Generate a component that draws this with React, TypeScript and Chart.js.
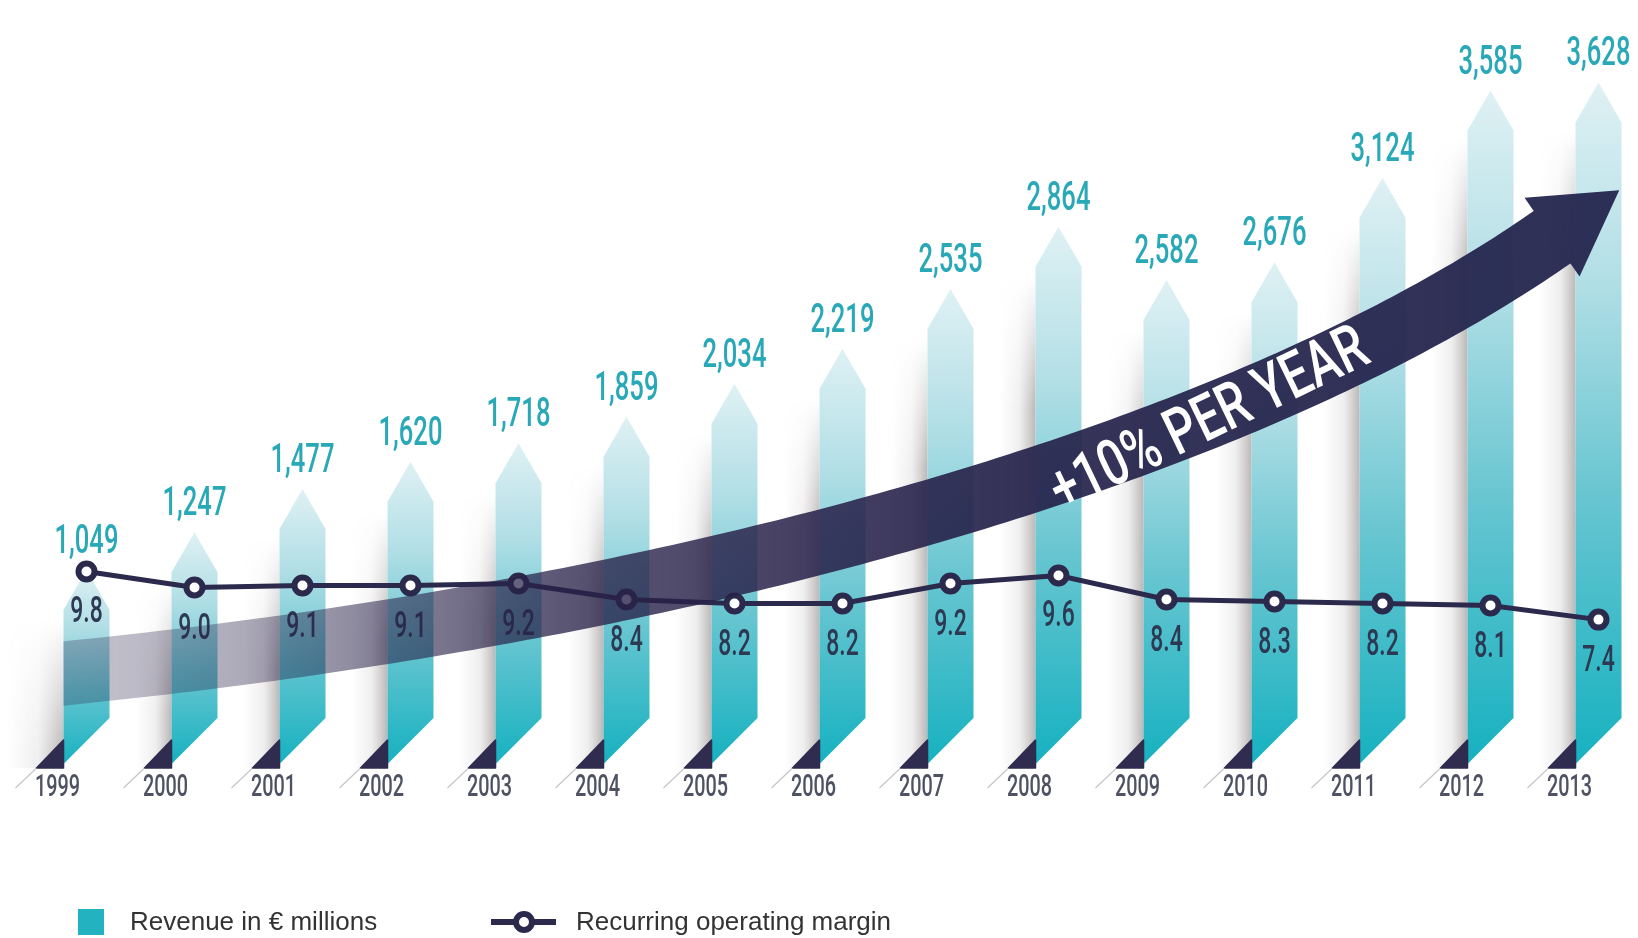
import React, { useEffect, useRef } from 'react';
import { Chart, registerables } from 'chart.js';

Chart.register(...registerables);

// ---------- data ----------
const years = ['1999', '2000', '2001', '2002', '2003', '2004', '2005', '2006', '2007', '2008', '2009', '2010', '2011', '2012', '2013'];
const revenue = [1049, 1247, 1477, 1620, 1718, 1859, 2034, 2219, 2535, 2864, 2582, 2676, 3124, 3585, 3628];
const margin = [9.8, 9.0, 9.1, 9.1, 9.2, 8.4, 8.2, 8.2, 9.2, 9.6, 8.4, 8.3, 8.2, 8.1, 7.4];
const revenueLabels = ['1,049', '1,247', '1,477', '1,620', '1,718', '1,859', '2,034', '2,219', '2,535', '2,864', '2,582', '2,676', '3,124', '3,585', '3,628'];
const marginLabels = ['9.8', '9.0', '9.1', '9.1', '9.2', '8.4', '8.2', '8.2', '9.2', '9.6', '8.4', '8.3', '8.2', '8.1', '7.4'];
const seriesNames = ['Revenue in € millions', 'Recurring operating margin'];
const arrowLabel = '+10% PER YEAR';

// ---------- styles ----------
const TEAL = '#22b2c0';
const NAVY = '#2b2a4c';
const COND = 'Roboto, "DejaVu Sans", sans-serif';

type Pt = { x: number; y: number };

function condensedText(ctx: CanvasRenderingContext2D, text: string, x: number, baseline: number, size: number, weight: number, color: string, sx: number) {
  ctx.save();
  ctx.font = `${weight} ${size}px ${COND}`;
  ctx.fillStyle = color;
  ctx.textAlign = 'center';
  ctx.textBaseline = 'alphabetic';
  ctx.translate(x, baseline);
  ctx.scale(sx, 1);
  ctx.fillText(text, 0, 0);
  ctx.restore();
}

function bez(p: Pt[], t: number): Pt {
  const u = 1 - t;
  const a = u * u * u, b = 3 * u * u * t, c = 3 * u * t * t, d = t * t * t;
  return { x: a * p[0].x + b * p[1].x + c * p[2].x + d * p[3].x, y: a * p[0].y + b * p[1].y + c * p[2].y + d * p[3].y };
}
function bezD(p: Pt[], t: number): Pt {
  const u = 1 - t;
  const a = 3 * u * u, b = 6 * u * t, c = 3 * t * t;
  return {
    x: a * (p[1].x - p[0].x) + b * (p[2].x - p[1].x) + c * (p[3].x - p[2].x),
    y: a * (p[1].y - p[0].y) + b * (p[2].y - p[1].y) + c * (p[3].y - p[2].y),
  };
}

const TIP_H = 40;

const decorPlugin = {
  id: 'decor',
  beforeDatasetsDraw(chart: any) {
    const ctx: CanvasRenderingContext2D = chart.ctx;
    const bars = chart.getDatasetMeta(0).data;

    // 1) cylinder-like shading left of each bar (canvas is still blank here)
    const strips: { x0: number; sw: number; top: number; bot: number; fl: number }[] = [];
    bars.forEach((bar: any, i: number) => {
      const { x, y, base, width } = bar.getProps(['x', 'y', 'base', 'width'], true);
      const xl = x - width / 2;
      const bot = base - 4;
      const sw = i === 0 ? 56 : 36;
      const top = y + TIP_H + 10;
      const fl = Math.min(130, bot - top);
      strips.push({ x0: xl - sw, sw, top, bot, fl });
      const g = ctx.createLinearGradient(xl - sw, 0, xl, 0);
      g.addColorStop(0, 'rgba(110,100,100,0)');
      g.addColorStop(0.55, 'rgba(110,100,100,0.10)');
      g.addColorStop(1, 'rgba(95,85,85,0.42)');
      ctx.save();
      ctx.fillStyle = g;
      ctx.fillRect(xl - sw, top, sw, bot - top + 4);
      ctx.restore();
    });
    strips.forEach((s) => {
      ctx.save();
      ctx.globalCompositeOperation = 'destination-out';
      const vg = ctx.createLinearGradient(0, s.top, 0, s.top + s.fl);
      vg.addColorStop(0, 'rgba(0,0,0,1)');
      vg.addColorStop(1, 'rgba(0,0,0,0)');
      ctx.fillStyle = vg;
      ctx.fillRect(s.x0 - 1, s.top - 1, s.sw + 2, s.fl + 1);
      ctx.restore();
    });

    // 2) arrow-shaped bars
    bars.forEach((bar: any) => {
      const { x, y, base, width } = bar.getProps(['x', 'y', 'base', 'width'], true);
      const w = width, xl = x - w / 2, xr = x + w / 2;
      const bot = base - 4;
      const bg = ctx.createLinearGradient(0, y, 0, bot);
      bg.addColorStop(0, '#dff1f4');
      bg.addColorStop(0.3, '#b0dee5');
      bg.addColorStop(0.6, '#69c6d1');
      bg.addColorStop(1, '#16b1c0');
      ctx.save();
      ctx.fillStyle = bg;
      ctx.beginPath();
      ctx.moveTo(x, y);
      ctx.lineTo(xr, y + TIP_H);
      ctx.lineTo(xr, bot - w);
      ctx.lineTo(xl, bot);
      ctx.lineTo(xl, y + TIP_H);
      ctx.closePath();
      ctx.fill();
      // folded dark corner
      ctx.fillStyle = '#2f2c4f';
      ctx.strokeStyle = '#2f2c4f';
      ctx.lineWidth = 1.5;
      ctx.lineJoin = 'round';
      ctx.beginPath();
      ctx.moveTo(xl - 27, bot + 4);
      ctx.lineTo(xl, bot - 24);
      ctx.lineTo(xl, bot + 4);
      ctx.closePath();
      ctx.fill();
      ctx.stroke();
      // faint fold line
      ctx.strokeStyle = 'rgba(150,150,160,0.55)';
      ctx.lineWidth = 1.2;
      ctx.beginPath();
      ctx.moveTo(xl - 27, bot + 4);
      ctx.lineTo(xl - 48, bot + 24);
      ctx.stroke();
      ctx.restore();
    });
  },
  afterDatasetsDraw(chart: any) {
    const ctx: CanvasRenderingContext2D = chart.ctx;
    const bars = chart.getDatasetMeta(0).data;
    const pts = chart.getDatasetMeta(1).data;
    const ys = chart.scales.y;

    bars.forEach((bar: any, i: number) => {
      condensedText(ctx, revenueLabels[i], bar.x, bar.y - 17, 40, 500, '#29a8b7', 0.64);
      condensedText(ctx, years[i], bar.x - 29, bar.base + 28, 32, 500, '#4f5263', 0.62);
    });
    pts.forEach((p: any, i: number) => {
      condensedText(ctx, marginLabels[i], p.x, p.y + 51, 37, 500, '#2d3952', 0.62);
    });

    // ---- growth arrow ----
    const first = bars[0];
    const step = (bars[bars.length - 1].x - bars[0].x) / (bars.length - 1);
    const ix = (i: number) => bars[0].x + i * step;
    const startX = first.x - first.width / 2;
    const P: Pt[] = [
      { x: startX - 10, y: ys.getPixelForValue(495) },
      { x: ix(5.68), y: ys.getPixelForValue(830) },
      { x: ix(10.77), y: ys.getPixelForValue(1690) },
      { x: ix(13.57), y: ys.getPixelForValue(2809) },
    ];
    const hw = 32, N = 140;
    const up: Pt[] = [], lo: Pt[] = [], mid: Pt[] = [];
    for (let k = 0; k <= N; k++) {
      const t = k / N;
      const p = bez(P, t), d = bezD(P, t);
      const len = Math.hypot(d.x, d.y);
      const nx = -d.y / len, ny = d.x / len;
      mid.push(p);
      up.push({ x: p.x - nx * hw, y: p.y - ny * hw });
      lo.push({ x: p.x + nx * hw, y: p.y + ny * hw });
    }
    const E = P[3];
    const dE = bezD(P, 1);
    const lE = Math.hypot(dE.x, dE.y);
    const ux = dE.x / lE, uy = dE.y / lE;
    const nx = -uy, ny = ux;
    const headHW = 48, headLen = 82;
    const tip = { x: E.x + ux * headLen, y: E.y + uy * headLen };

    const ag = ctx.createLinearGradient(startX, 0, tip.x, 0);
    ag.addColorStop(0, 'rgba(40,33,72,0.28)');
    ag.addColorStop(0.07, 'rgba(40,33,72,0.32)');
    ag.addColorStop(0.14, 'rgba(40,33,72,0.42)');
    ag.addColorStop(0.2, 'rgba(40,33,72,0.55)');
    ag.addColorStop(0.32, 'rgba(40,33,72,0.76)');
    ag.addColorStop(0.47, 'rgba(40,33,74,0.86)');
    ag.addColorStop(0.6, 'rgba(39,36,76,0.93)');
    ag.addColorStop(1, 'rgba(38,40,80,0.96)');

    ctx.save();
    ctx.beginPath();
    ctx.rect(startX, 0, chart.width, chart.height);
    ctx.clip();
    ctx.fillStyle = ag;
    ctx.beginPath();
    ctx.moveTo(up[0].x, up[0].y);
    for (let k = 1; k <= N; k++) ctx.lineTo(up[k].x, up[k].y);
    ctx.lineTo(E.x - nx * headHW, E.y - ny * headHW);
    ctx.lineTo(tip.x, tip.y);
    ctx.lineTo(E.x + nx * headHW, E.y + ny * headHW);
    for (let k = N; k >= 0; k--) ctx.lineTo(lo[k].x, lo[k].y);
    ctx.closePath();
    ctx.fill();
    ctx.restore();

    // text along the arrow
    const tx = ix(10.4);
    let best = mid[0];
    mid.forEach((m) => { if (Math.abs(m.x - tx) < Math.abs(best.x - tx)) best = m; });
    ctx.save();
    ctx.translate(best.x, best.y);
    ctx.rotate(-0.45);
    ctx.font = `500 64px ${COND}`;
    const mw = ctx.measureText(arrowLabel).width;
    ctx.scale(345 / mw, 1);
    ctx.fillStyle = '#ffffff';
    ctx.textAlign = 'center';
    ctx.textBaseline = 'alphabetic';
    ctx.fillText(arrowLabel, 0, 22);
    ctx.restore();
  },
  afterDraw(chart: any) {
    const ctx: CanvasRenderingContext2D = chart.ctx;
    const cy = 922;
    ctx.save();
    ctx.fillStyle = TEAL;
    ctx.fillRect(78, cy - 13, 26, 26);
    ctx.font = '26px "Liberation Sans", Arial, sans-serif';
    ctx.fillStyle = '#333333';
    ctx.textAlign = 'left';
    ctx.textBaseline = 'middle';
    ctx.fillText(seriesNames[0], 130, cy + 1);
    ctx.strokeStyle = NAVY;
    ctx.lineWidth = 6;
    ctx.beginPath();
    ctx.moveTo(491, cy);
    ctx.lineTo(556, cy);
    ctx.stroke();
    ctx.beginPath();
    ctx.arc(524, cy, 8, 0, Math.PI * 2);
    ctx.fillStyle = '#ffffff';
    ctx.fill();
    ctx.lineWidth = 6;
    ctx.stroke();
    ctx.fillStyle = '#333333';
    ctx.fillText(seriesNames[1], 576, cy + 1);
    ctx.restore();
  },
};

export default function App() {
  const ref = useRef<HTMLCanvasElement | null>(null);
  useEffect(() => {
    if (!ref.current) return;
    const chart = new Chart(ref.current, {
      type: 'bar',
      data: {
        labels: years,
        datasets: [
          {
            type: 'bar',
            label: seriesNames[0],
            data: revenue,
            yAxisID: 'y',
            backgroundColor: 'rgba(0,0,0,0)',
            borderWidth: 0,
            barThickness: 46,
            order: 2,
          } as any,
          {
            type: 'line',
            label: seriesNames[1],
            data: margin,
            yAxisID: 'y2',
            borderColor: NAVY,
            borderWidth: 5,
            pointRadius: 8,
            pointBorderWidth: 6,
            pointBackgroundColor: '#ffffff',
            pointBorderColor: NAVY,
            tension: 0,
            order: 1,
          } as any,
        ],
      },
      options: {
        responsive: true,
        maintainAspectRatio: false,
        animation: false,
        layout: { padding: { left: 86.5, right: 39.5, top: 0, bottom: 170 } },
        scales: {
          x: { display: false, offset: false },
          y: { display: false, min: 0, max: 3990 },
          y2: { display: false, min: 0, max: 37.6, position: 'right' },
        },
        plugins: { legend: { display: false }, tooltip: { enabled: false } },
      } as any,
      plugins: [decorPlugin],
    });
    return () => chart.destroy();
  }, []);
  return (
    <div style={{ position: 'fixed', left: 0, top: 0, width: 1638, height: 938, background: '#ffffff' }}>
      <canvas ref={ref} />
    </div>
  );
}
